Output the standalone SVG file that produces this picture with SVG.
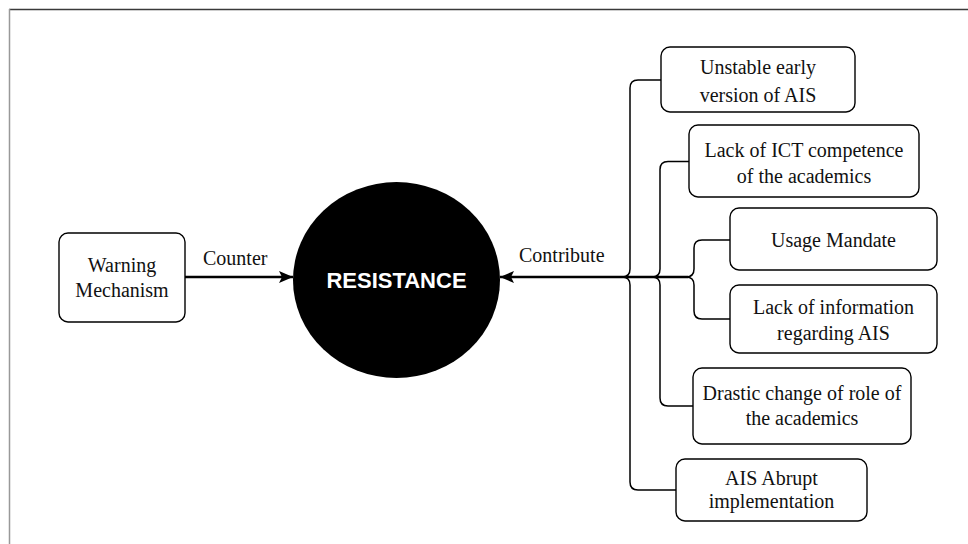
<svg xmlns="http://www.w3.org/2000/svg" width="968" height="544" viewBox="0 0 968 544">
<defs>
<style>
.box{fill:#fff;stroke:#000;stroke-width:1.4}
.t{font-family:"Liberation Serif","Times New Roman",serif;font-size:20px;fill:#111;text-anchor:middle}
.lbl{font-family:"Liberation Serif","Times New Roman",serif;font-size:20px;fill:#111}
.conn{fill:none;stroke:#000;stroke-width:1.5}
.main{fill:none;stroke:#000;stroke-width:2.4}
</style>
<marker id="arr" markerWidth="16" markerHeight="14" refX="14" refY="6" orient="auto" markerUnits="userSpaceOnUse">
<path d="M0,0 L14,6 L0,12 L3,6 z" fill="#000"/>
</marker>
</defs>
<rect width="968" height="544" fill="#fff"/>
<line x1="9" y1="9.5" x2="968" y2="9.5" stroke="#3a3a3a" stroke-width="1.5"/>
<line x1="9.5" y1="9" x2="9.5" y2="544" stroke="#999" stroke-width="1.5"/>

<g id="connectors">
<line class="main" x1="185" y1="277" x2="293" y2="277" marker-end="url(#arr)"/>
<line class="main" x1="688" y1="277" x2="500" y2="277" marker-end="url(#arr)"/>
<path class="conn" d="M661,80 H638 Q630,80 630,88 V269 Q630,277 622,277"/>
<path class="conn" d="M689,161.5 H668 Q660,161.5 660,169.5 V269 Q660,277 652,277"/>
<path class="conn" d="M730,240 H702 Q694,240 694,248 V269 Q694,277 686,277"/>
<path class="conn" d="M622,277 Q630,277 630,285 V482 Q630,490 638,490 H676"/>
<path class="conn" d="M652,277 Q660,277 660,285 V398 Q660,406 668,406 H693"/>
<path class="conn" d="M686,277 Q694,277 694,285 V311 Q694,319 702,319 H730"/>
<text class="lbl" x="203" y="265">Counter</text>
<text class="lbl" x="519" y="262">Contribute</text>
</g>

<g id="warning">
<rect class="box" x="59" y="233" width="126" height="89" rx="9"/>
<text class="t" x="122" y="272">Warning</text>
<text class="t" x="122" y="297">Mechanism</text>
</g>

<g id="resistance">
<ellipse cx="396.5" cy="280" rx="103.5" ry="98" fill="#000"/>
<text x="396.5" y="288" font-family="'Liberation Sans',Arial,sans-serif" font-size="22" font-weight="bold" fill="#fff" text-anchor="middle">RESISTANCE</text>
</g>

<g id="n1">
<rect class="box" x="661" y="47" width="194" height="65" rx="9"/>
<text class="t" x="758" y="74">Unstable early</text>
<text class="t" x="758" y="101.5">version of AIS</text>
</g>

<g id="n2">
<rect class="box" x="689" y="125" width="230" height="72" rx="9"/>
<text class="t" x="804" y="157">Lack of ICT competence</text>
<text class="t" x="804" y="182.5">of the academics</text>
</g>

<g id="n3">
<rect class="box" x="730" y="208" width="207" height="62" rx="9"/>
<text class="t" x="833.5" y="247">Usage Mandate</text>
</g>

<g id="n4">
<rect class="box" x="730" y="285" width="207" height="68" rx="9"/>
<text class="t" x="833.5" y="314">Lack of information</text>
<text class="t" x="833.5" y="340">regarding AIS</text>
</g>

<g id="n5">
<rect class="box" x="693" y="368" width="218" height="76" rx="9"/>
<text class="t" x="802" y="400">Drastic change of role of</text>
<text class="t" x="802" y="425">the academics</text>
</g>

<g id="n6">
<rect class="box" x="676" y="459" width="191" height="62" rx="9"/>
<text class="t" x="771.5" y="485">AIS Abrupt</text>
<text class="t" x="771.5" y="508">implementation</text>
</g>
</svg>
